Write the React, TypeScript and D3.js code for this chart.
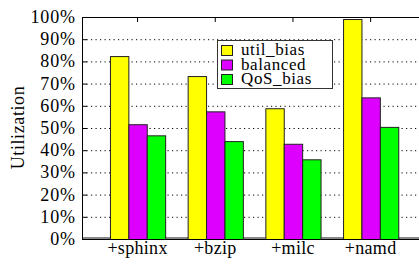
import { useRef, useEffect } from 'react'
import * as d3 from 'd3'

const categories = ['+sphinx', '+bzip', '+milc', '+namd']
const seriesNames = ['util_bias', 'balanced', 'QoS_bias']
const utilBias = [82.4, 73.4, 58.9, 99.1]
const balanced = [51.7, 57.5, 42.9, 63.8]
const qosBias = [46.7, 44.1, 35.9, 50.5]
const yTicks = [0, 10, 20, 30, 40, 50, 60, 70, 80, 90, 100]
const colors = ['#ffff00', '#dd00ff', '#00ff00']

const W = 419
const H = 264
const FONT = 'Liberation Serif'

export default function App() {
  const svgRef = useRef<SVGSVGElement>(null)

  useEffect(() => {
    if (!svgRef.current) return
    const svg = d3.select(svgRef.current)
    svg.selectAll('*').remove()

    const left = 82
    const top = 17
    const bottom = 239
    const step = 77.7

    const x = d3.scaleLinear().domain([-0.715, 3.72]).range([left, left + 4.435 * step])
    const y = d3.scaleLinear().domain([0, 100]).range([bottom, top])
    const inner = d3.scaleBand<string>().domain(seriesNames).range([-27.6, 27.6])

    const values = [utilBias, balanced, qosBias]

    // grid
    svg.append('g')
      .selectAll('line')
      .data(yTicks.filter((t) => t > 0 && t < 100))
      .join('line')
      .attr('x1', left).attr('x2', W + 10)
      .attr('y1', (d) => y(d) + 0.5).attr('y2', (d) => y(d) + 0.5)
      .attr('stroke', '#000').attr('stroke-width', 1)
      .attr('stroke-dasharray', '1.2,3.3')

    // y tick marks
    svg.append('g')
      .selectAll('line')
      .data(yTicks)
      .join('line')
      .attr('x1', left).attr('x2', left + 5)
      .attr('y1', (d) => y(d) + 0.5).attr('y2', (d) => y(d) + 0.5)
      .attr('stroke', '#000')

    // x tick marks at top
    svg.append('g')
      .selectAll('line')
      .data(categories)
      .join('line')
      .attr('x1', (_, i) => x(i)).attr('x2', (_, i) => x(i))
      .attr('y1', top).attr('y2', top + 5)
      .attr('stroke', '#000')

    // baseline (gray)
    svg.append('line')
      .attr('x1', left).attr('x2', W + 10)
      .attr('y1', bottom - 1).attr('y2', bottom - 1)
      .attr('stroke', '#888').attr('stroke-width', 2)

    // bars
    categories.forEach((_, i) => {
      svg.append('g')
        .selectAll('rect')
        .data(seriesNames)
        .join('rect')
        .attr('x', (s) => x(i) + (inner(s) as number) + 0.5)
        .attr('width', inner.bandwidth())
        .attr('y', (_, k) => y(values[k][i]) + 0.5)
        .attr('height', (_, k) => y(0) - y(values[k][i]))
        .attr('fill', (_, k) => colors[k])
        .attr('stroke', '#222').attr('stroke-width', 1)
    })

    // border
    svg.append('path')
      .attr('d', `M${W + 10},${top + 0.5}H${left + 0.5}V${bottom + 0.5}H${W + 10}`)
      .attr('fill', 'none').attr('stroke', '#000').attr('stroke-width', 1)

    // y tick labels
    svg.append('g')
      .selectAll('text')
      .data(yTicks)
      .join('text')
      .attr('x', 76).attr('y', (d) => y(d) + 6)
      .attr('text-anchor', 'end')
      .attr('font-family', FONT).attr('font-size', 18)
      .attr('letter-spacing', 0.9)
      .text((d) => `${d}%`)

    // x labels
    svg.append('g')
      .selectAll('text')
      .data(categories)
      .join('text')
      .attr('x', (_, i) => x(i)).attr('y', 254)
      .attr('text-anchor', 'middle')
      .attr('font-family', FONT).attr('font-size', 18)
      .attr('letter-spacing', 0.3)
      .text((d) => d)

    // y label
    svg.append('text')
      .attr('transform', `translate(24,127.5) rotate(-90)`)
      .attr('text-anchor', 'middle')
      .attr('font-family', FONT).attr('font-size', 18)
      .attr('letter-spacing', 0.6)
      .text('Utilization')

    // legend
    const lg = svg.append('g')
    lg.append('rect')
      .attr('x', 217.5).attr('y', 40.5).attr('width', 115).attr('height', 48)
      .attr('fill', '#fff').attr('stroke', '#333').attr('stroke-width', 1)
    const rows = lg.selectAll('g.row').data(seriesNames).join('g')
      .attr('class', 'row')
      .attr('transform', (_, k) => `translate(0,${45 + k * 14.5})`)
    rows.append('rect')
      .attr('x', 221.5).attr('y', 0.5).attr('width', 11).attr('height', 10)
      .attr('fill', (_, k) => colors[k]).attr('stroke', '#222')
    rows.append('text')
      .attr('x', 241).attr('y', 10)
      .attr('font-family', FONT).attr('font-size', 17)
      .attr('letter-spacing', 0.6)
      .text((d) => d)
  }, [])

  return (
    <div style={{ position: 'absolute', left: 0, top: 0, width: W, height: H, background: '#fff' }}>
      <svg ref={svgRef} width={W} height={H} style={{ display: 'block' }} />
    </div>
  )
}
